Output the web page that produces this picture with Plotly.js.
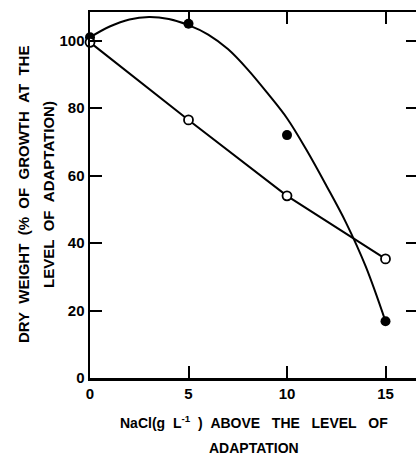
<!DOCTYPE html>
<html>
<head>
<meta charset="utf-8">
<script src="https://cdn.plot.ly/plotly-3.0.1.min.js"></script>
<style>
html,body{margin:0;padding:0;overflow:hidden;background:#fff;}
#chart{width:422px;height:460px;}
</style>
</head>
<body>
<div id="chart"></div>
<script>
// NaCl above level of adaptation (g/L)
const nacl = [0, 5, 10, 15];
// Filled circles: measured points
const filledValues = [101, 105, 72, 16.8];
// Open circles: measured points
const openValues = [99.5, 76.5, 54, 35.3];
// Smooth curve drawn through the filled series
const curveX = [0, 1, 2, 3, 4, 5, 6, 7, 8, 9, 10, 11, 12, 13, 14, 15];
const curveY = [101, 104.2, 106.3, 107, 106.4, 104.6, 101.8, 97.5, 91.5, 84.5, 77, 67.5, 57, 46, 33, 16.8];
const xTicks = [0, 5, 10, 15];
const yTicks = [0, 20, 40, 60, 80, 100];

const FONT = 'Liberation Sans, Arial, sans-serif';
const S = '\u00A0';
const sp = n => S.repeat(n);

const traces = [
  {x: curveX, y: curveY, mode: 'lines', line: {color: '#000', width: 2, shape: 'spline', smoothing: 1}, hoverinfo: 'skip', cliponaxis: false},
  {x: nacl, y: openValues, mode: 'lines', line: {color: '#000', width: 2}, cliponaxis: false},
  {x: nacl, y: filledValues, mode: 'markers', marker: {size: 10, color: '#000'}, cliponaxis: false},
  {x: nacl, y: openValues, mode: 'markers', marker: {size: 9, color: '#fff', line: {color: '#000', width: 1.8}}, cliponaxis: false}
];

const yTitle1 = 'DRY' + sp(2) + 'WEIGHT' + sp(2) + '(%' + sp(2) + 'OF' + sp(2) + 'GROWTH' + sp(2) + 'AT' + sp(2) + 'THE';
const yTitle2 = 'LEVEL' + sp(2) + 'OF' + sp(2) + 'ADAPTATION)';
const xTitle1 = 'NaCl(g' + sp(2) + 'L<sup>-1</sup>' + sp(2) + ')' + sp(2) + 'ABOVE' + sp(3) + 'THE' + sp(3) + 'LEVEL' + sp(3) + 'OF';
const xTitle2 = 'ADAPTATION';

const layout = {
  width: 422, height: 460,
  margin: {l: 90, r: 4, t: 12, b: 82},
  showlegend: false,
  paper_bgcolor: '#fff', plot_bgcolor: '#fff',
  font: {family: FONT, color: '#000', size: 15},
  xaxis: {
    range: [0, 16.65], tickvals: xTicks, ticktext: xTicks.map(String),
    ticks: 'inside', ticklen: 12, tickwidth: 2, tickcolor: '#000',
    showline: true, linewidth: 2.5, linecolor: '#000', mirror: 'ticks',
    showgrid: false, zeroline: false,
    tickfont: {family: FONT, size: 15, weight: 'bold'}
  },
  yaxis: {
    range: [0, 108.5], tickvals: yTicks, ticktext: yTicks.map(String),
    ticks: 'inside', ticklen: 12, tickwidth: 2, tickcolor: '#000',
    showline: true, linewidth: 2.5, linecolor: '#000', mirror: 'ticks',
    showgrid: false, zeroline: false,
    tickfont: {family: FONT, size: 15, weight: 'bold'}
  },
  annotations: [
    {text: '<b>' + yTitle1 + '</b>', xref: 'paper', yref: 'paper', x: -0.204, y: 0.5, textangle: -90, showarrow: false, xanchor: 'center', yanchor: 'middle', font: {family: FONT, size: 15}},
    {text: '<b>' + yTitle2 + '</b>', xref: 'paper', yref: 'paper', x: -0.128, y: 0.5, textangle: -90, showarrow: false, xanchor: 'center', yanchor: 'middle', font: {family: FONT, size: 15}},
    {text: '<b>' + xTitle1 + '</b>', xref: 'paper', yref: 'paper', x: 0.5, y: -0.12, showarrow: false, xanchor: 'center', yanchor: 'middle', font: {family: FONT, size: 14}},
    {text: '<b>' + xTitle2 + '</b>', xref: 'paper', yref: 'paper', x: 0.5, y: -0.192, showarrow: false, xanchor: 'center', yanchor: 'middle', font: {family: FONT, size: 14}}
  ]
};

Plotly.newPlot('chart', traces, layout, {displayModeBar: false, staticPlot: true});
</script>
</body>
</html>
